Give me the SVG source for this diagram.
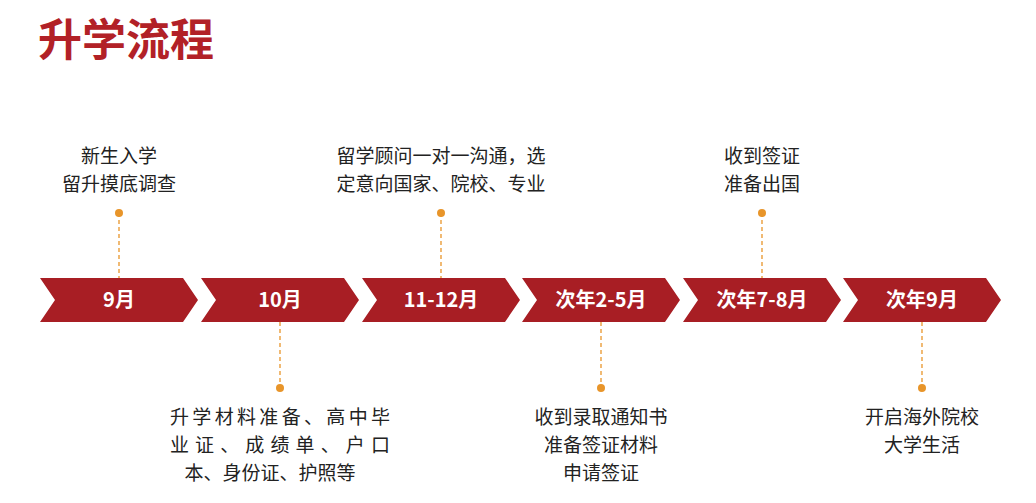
<svg xmlns="http://www.w3.org/2000/svg" width="1036" height="503" viewBox="0 0 1036 503">
<style>
.t{font-family:"Noto Sans CJK SC",sans-serif;font-size:19px;fill:#222;text-anchor:middle}
.c{fill:#A81E24}
.m{font-family:"Noto Sans CJK SC",sans-serif;font-size:20px;font-weight:bold;fill:#fff;text-anchor:middle}
.l{stroke:#E8952A;stroke-width:1.3;stroke-dasharray:4 3;fill:none}
.d{fill:#E8952A}
</style>
<defs><path id="ch" d="M0,0 H143 L158,22 L143,44 H0 L15,22 Z"/></defs>
<text x="38" y="56" font-family="Noto Sans CJK SC,sans-serif" font-size="44" font-weight="bold" fill="#B22127">升学流程</text>
<g id="connectors">
<line class="l" x1="119" y1="213" x2="119" y2="278"/><circle class="d" cx="119" cy="213" r="4"/>
<line class="l" x1="280" y1="322" x2="280" y2="388"/><circle class="d" cx="280" cy="388" r="4"/>
<line class="l" x1="441" y1="213" x2="441" y2="278"/><circle class="d" cx="441" cy="213" r="4"/>
<line class="l" x1="601" y1="322" x2="601" y2="388"/><circle class="d" cx="601" cy="388" r="4"/>
<line class="l" x1="762" y1="213" x2="762" y2="278"/><circle class="d" cx="762" cy="213" r="4"/>
<line class="l" x1="922" y1="322" x2="922" y2="388"/><circle class="d" cx="922" cy="388" r="4"/>
</g>
<g id="n1"><use href="#ch" class="c" x="40" y="278"/><text class="m" x="119" y="307">9月</text>
<text class="t" x="119" y="163">新生入学</text><text class="t" x="119" y="191">留升摸底调查</text></g>
<g id="n2"><use href="#ch" class="c" x="201" y="278"/><text class="m" x="280" y="307">10月</text>
<text class="t" x="280" y="424" textLength="220" lengthAdjust="spacing">升学材料准备、高中毕</text>
<text class="t" x="280" y="452" textLength="220" lengthAdjust="spacing">业证、成绩单、户口</text>
<text class="t" x="270" y="480">本、身份证、护照等</text></g>
<g id="n3"><use href="#ch" class="c" x="362" y="278"/><text class="m" x="441" y="307">11-12月</text>
<text class="t" x="441" y="163">留学顾问一对一沟通，选</text><text class="t" x="441" y="191">定意向国家、院校、专业</text></g>
<g id="n4"><use href="#ch" class="c" x="522" y="278"/><text class="m" x="601" y="307">次年2-5月</text>
<text class="t" x="601" y="424">收到录取通知书</text><text class="t" x="601" y="452">准备签证材料</text><text class="t" x="601" y="480">申请签证</text></g>
<g id="n5"><use href="#ch" class="c" x="683" y="278"/><text class="m" x="762" y="307">次年7-8月</text>
<text class="t" x="762" y="163">收到签证</text><text class="t" x="762" y="191">准备出国</text></g>
<g id="n6"><use href="#ch" class="c" x="843" y="278"/><text class="m" x="922" y="307">次年9月</text>
<text class="t" x="922" y="424">开启海外院校</text><text class="t" x="922" y="452">大学生活</text></g>
</svg>
